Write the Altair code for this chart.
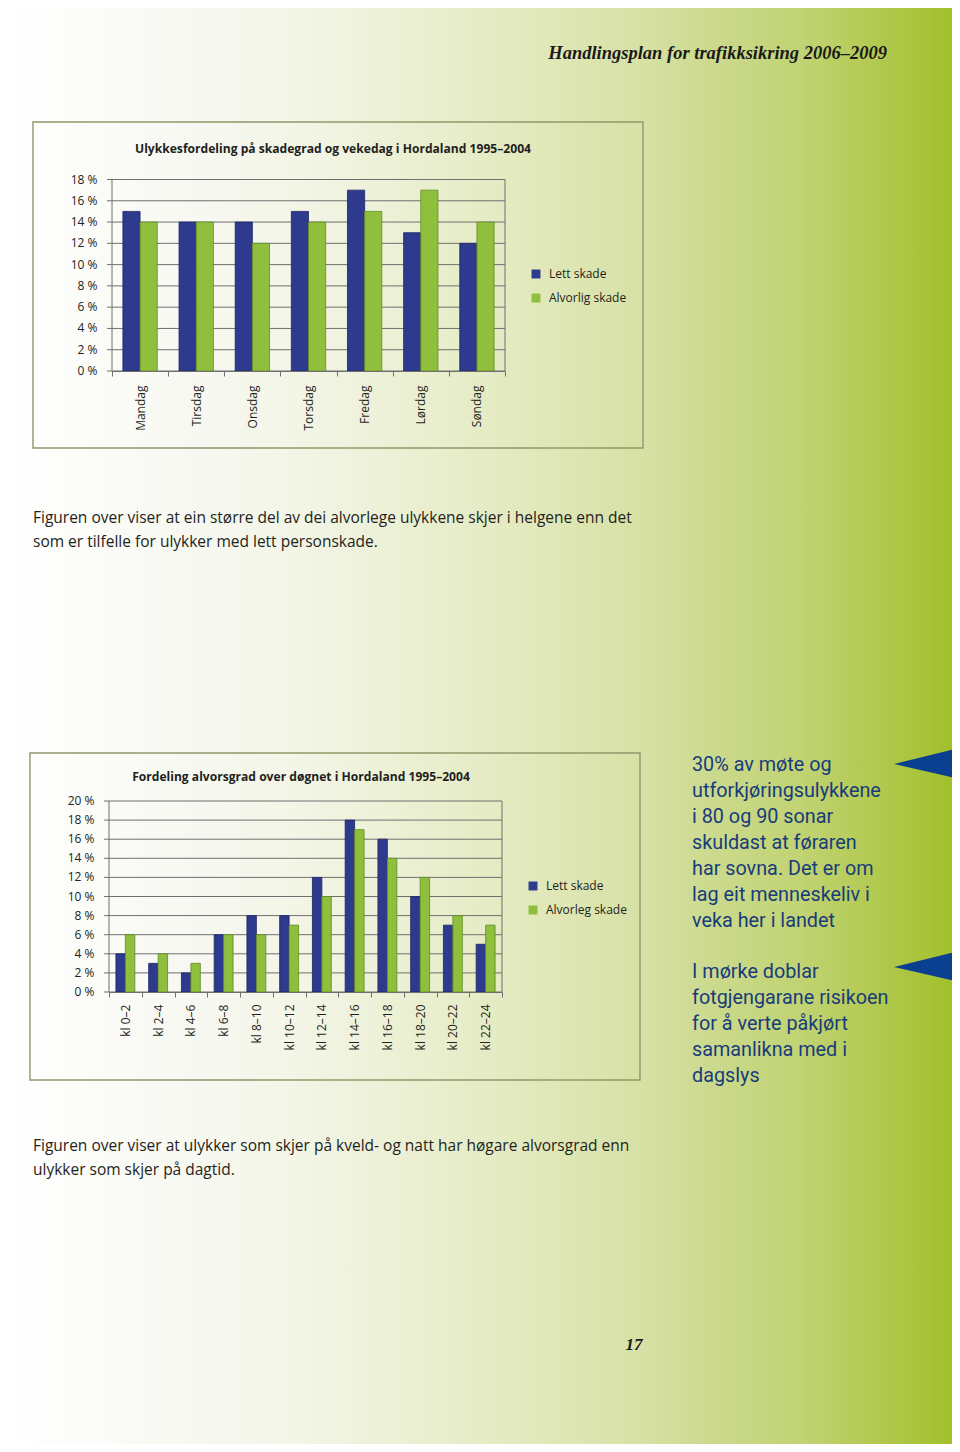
import altair as alt
import pandas as pd

W, H = 944, 1436

# ---------------- text content ----------------
header = "Handlingsplan for trafikksikring 2006–2009"
page_no = "17"

title1 = "Ulykkesfordeling på skadegrad og vekedag i Hordaland 1995–2004"
days = ["Mandag", "Tirsdag", "Onsdag", "Torsdag", "Fredag", "Lørdag", "Søndag"]
series1 = ["Lett skade", "Alvorlig skade"]
lett1 = [15, 14, 14, 15, 17, 13, 12]
alvorlig1 = [14, 14, 12, 14, 15, 17, 14]
ticks1 = [0, 2, 4, 6, 8, 10, 12, 14, 16, 18]

para1 = [
    "Figuren over viser at ein større del av dei alvorlege ulykkene skjer i helgene enn det",
    "som er tilfelle for ulykker med lett personskade.",
]

title2 = "Fordeling alvorsgrad over døgnet i Hordaland 1995–2004"
hours = ["kl 0–2", "kl 2–4", "kl 4–6", "kl 6–8", "kl 8–10", "kl 10–12",
         "kl 12–14", "kl 14–16", "kl 16–18", "kl 18–20", "kl 20–22", "kl 22–24"]
series2 = ["Lett skade", "Alvorleg skade"]
lett2 = [4, 3, 2, 6, 8, 8, 12, 18, 16, 10, 7, 5]
alvorleg2 = [6, 4, 3, 6, 6, 7, 10, 17, 14, 12, 8, 7]
ticks2 = [0, 2, 4, 6, 8, 10, 12, 14, 16, 18, 20]

para2 = [
    "Figuren over viser at ulykker som skjer på kveld- og natt har høgare alvorsgrad enn",
    "ulykker som skjer på dagtid.",
]

side1 = ["30% av møte og", "utforkjøringsulykkene", "i 80 og 90 sonar",
         "skuldast at føraren", "har sovna. Det er om", "lag eit menneskeliv i",
         "veka her i landet"]
side2 = ["I mørke doblar", "fotgjengarane risikoen", "for å verte påkjørt",
         "samanlikna med i", "dagslys"]

# ---------------- styles ----------------
BLUE, BLUE_EDGE = "#2e3a8e", "#1d2563"
GREEN, GREEN_EDGE = "#8fbf3d", "#628a26"
GRID = "#6f6f6f"
FONT = "Open Sans"
SIDE_FONT = "Roboto"
SERIF = "Liberation Serif"
NAVY = "#183c7a"
TXT = "#231f20"

one = alt.Data(values=[{}])

# background gradient
bg = alt.Chart(one).mark_rect(
    fill=alt.Gradient(
        gradient="linear", x1=0, x2=1, y1=0, y2=0,
        stops=[
            alt.GradientStop(offset=0.0, color="#ffffff"),
            alt.GradientStop(offset=0.2, color="#f7f8f1"),
            alt.GradientStop(offset=0.31, color="#f3f5e6"),
            alt.GradientStop(offset=0.5, color="#e6ecc6"),
            alt.GradientStop(offset=0.67, color="#d7e1a5"),
            alt.GradientStop(offset=0.75, color="#cbd98c"),
            alt.GradientStop(offset=0.84, color="#c1d373"),
            alt.GradientStop(offset=0.92, color="#b2c950"),
            alt.GradientStop(offset=1.0, color="#a2c02b"),
        ],
    )
).encode(x=alt.value(0), x2=alt.value(W), y=alt.value(0), y2=alt.value(H))


def text_layer(lines, x, y, size, font=FONT, color=TXT, align="left",
               weight="normal", style="normal", lh=None):
    return alt.Chart(one).mark_text(
        text=lines, align=align, baseline="alphabetic", font=font,
        fontSize=size, fontWeight=weight, fontStyle=style, color=color,
        lineHeight=lh if lh else size * 1.3,
    ).encode(x=alt.value(x), y=alt.value(y))


def box(x0, y0, x1, y1):
    return alt.Chart(one).mark_rect(
        fill=None, stroke="#8c9a6a", strokeWidth=1.4
    ).encode(x=alt.value(x0), x2=alt.value(x1), y=alt.value(y0), y2=alt.value(y1))


def panel(cats, series, a, b, ticks, xr, yr, leg_x, leg_y, po, xlab_pad, ylab_x):
    df = pd.DataFrame({
        "cat": cats * 2,
        "series": [series[0]] * len(cats) + [series[1]] * len(cats),
        "value": a + b,
    })
    tdf = pd.DataFrame({"v": ticks, "label": [f"{t} %" for t in ticks]})
    ys = alt.Scale(domain=[ticks[0], ticks[-1]], range=[yr[0], yr[1]], nice=False)
    xs = alt.Scale(domain=cats, range=[xr[0], xr[1]], paddingInner=0, paddingOuter=0)
    # horizontal grid lines (including the outward tick marks)
    grid = alt.Chart(tdf).mark_rule(color=GRID, strokeWidth=1).encode(
        y=alt.Y("v:Q", scale=ys, axis=None), x=alt.value(xr[0] - 5), x2=alt.value(xr[1]))
    # y tick labels
    ylabels = alt.Chart(tdf).mark_text(
        align="right", baseline="middle", font=FONT, fontSize=12, color=TXT
    ).encode(y=alt.Y("v:Q", scale=ys, axis=None), x=alt.value(ylab_x), text="label:N")
    # left axis line and right frame line
    span = pd.DataFrame({"lo": [ticks[0]], "hi": [ticks[-1]]})
    left = alt.Chart(span).mark_rule(color=GRID, strokeWidth=1).encode(
        y=alt.Y("lo:Q", scale=ys, axis=None), y2="hi:Q", x=alt.value(xr[0]))
    right = alt.Chart(span).mark_rule(color=GRID, strokeWidth=1).encode(
        y=alt.Y("lo:Q", scale=ys, axis=None), y2="hi:Q", x=alt.value(xr[1]))
    bars = alt.Chart(df).mark_bar(strokeWidth=0.8).encode(
        x=alt.X("cat:N", sort=cats, scale=xs, axis=alt.Axis(
            orient="bottom", offset=yr[0] - H, title=None, labelAngle=-90,
            tickBand="extent", tickSize=5, tickColor=GRID, domainColor=GRID,
            labelFont=FONT, labelFontSize=12, labelColor=TXT, labelPadding=xlab_pad,
            grid=False, zindex=2)),
        xOffset=alt.XOffset("series:N", sort=series,
                            scale=alt.Scale(domain=series, paddingInner=0, paddingOuter=po)),
        y=alt.Y("value:Q", scale=ys, axis=None),
        color=alt.Color("series:N", sort=series,
                        scale=alt.Scale(domain=series, range=[BLUE, GREEN]),
                        legend=alt.Legend(orient="none", legendX=leg_x, legendY=leg_y,
                                          title=None, symbolType="square", symbolSize=80,
                                          symbolStrokeWidth=0, labelFont=FONT,
                                          labelFontSize=12, labelColor=TXT,
                                          rowPadding=12, labelOffset=7)),
        stroke=alt.Stroke("series:N", sort=series,
                          scale=alt.Scale(domain=series, range=[BLUE_EDGE, GREEN_EDGE]),
                          legend=None),
    )
    return alt.layer(grid, left, right, ylabels, bars)


chart1 = panel(days, series1, lett1, alvorlig1, ticks1, (104, 497), (363, 171.5),
               522, 260, 0.635, 9, 89.5)
chart2 = panel(hours, series2, lett2, alvorleg2, ticks2, (101, 494), (984, 793),
               519, 872, 0.73, 7, 86.5)

tri_shape = "M-1,0L1,-0.49L1,0.46Z"
tri1 = alt.Chart(one).mark_point(shape=tri_shape, filled=True, size=4356,
                                 color="#0b3f8f", opacity=1, strokeWidth=0
                                 ).encode(x=alt.value(919), y=alt.value(756))
tri2 = alt.Chart(one).mark_point(shape=tri_shape, filled=True, size=4356,
                                 color="#0b3f8f", opacity=1, strokeWidth=0
                                 ).encode(x=alt.value(919), y=alt.value(959))

layers = [
    bg,
    text_layer([header], 879, 51, 18.5, font=SERIF, align="right", weight="bold",
               style="italic", color="#1a1a1a"),
    box(25, 114, 635, 440),
    text_layer([title1], 325, 144.5, 12.1, align="center", weight="bold"),
    chart1,
    text_layer(para1, 25, 515, 15.5, lh=24),
    box(22, 745, 632, 1072),
    text_layer([title2], 293, 772.5, 12.1, align="center", weight="bold"),
    chart2,
    text_layer(side1, 684, 763, 19.8, font=SIDE_FONT, color=NAVY, lh=26),
    text_layer(side2, 684, 970, 19.8, font=SIDE_FONT, color=NAVY, lh=26),
    tri1,
    tri2,
    text_layer(para2, 25, 1143, 15.5, lh=24),
    text_layer([page_no], 626, 1342, 17, font=SERIF, align="center", weight="bold",
               style="italic", color="#1a1a1a"),
]

chart = alt.layer(*layers).resolve_scale(
    x="independent", y="independent", color="independent",
    stroke="independent", xOffset="independent",
).resolve_axis(x="independent", y="independent").resolve_legend(
    color="independent"
).properties(
    width=W, height=H, padding=0, autosize=alt.AutoSizeParams(type="none"),
).configure_view(stroke=None).configure(background="#ffffff")

chart.save("out.html", embed_options={"renderer": "svg", "actions": False})
